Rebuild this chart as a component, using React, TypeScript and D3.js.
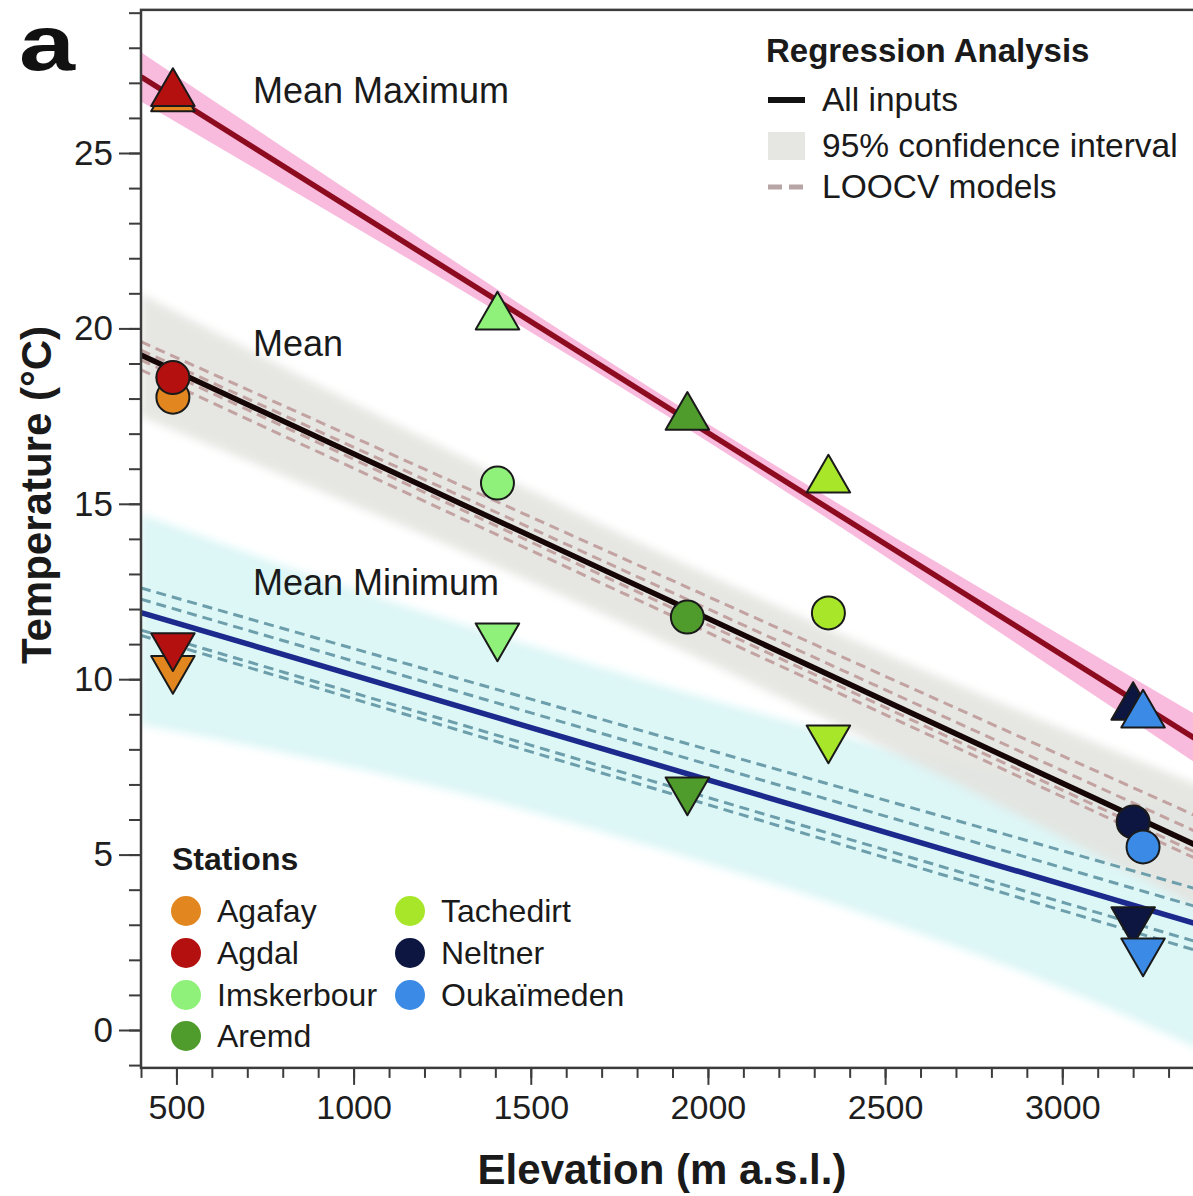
import React, { useEffect, useRef } from 'react';
import * as d3 from 'd3';

// ---- Station data ----
const stations = ['Agafay', 'Agdal', 'Imskerbour', 'Aremd', 'Tachedirt', 'Neltner', 'Oukaïmeden'];
const stationColors = ['#e2861f', '#b3100f', '#8ff07a', '#4f9c2c', '#a8e62a', '#0c1640', '#3b8ae6'];
const elevations = [490, 490, 1406, 1942, 2340, 3200, 3228];
const meanMaxT = [26.55, 26.7, 20.33, 17.47, 15.68, 9.2, 8.98];
const meanT = [18.04, 18.6, 15.59, 11.77, 11.89, 5.93, 5.22];
const meanMinT = [10.3, 10.95, 11.23, 6.84, 8.32, 3.14, 2.25];

// ---- Regression fits (value at each end elevation) ----
const fitElev = [400, 3400];
const fitMax = [27.17, 8.15];
const fitMean = [19.24, 5.16];
const fitMin = [11.9, 2.96];

// ---- LOOCV models (value at each end elevation) ----
const loocvMean = [
  [19.62, 6.0],
  [19.38, 5.55],
  [19.1, 4.95],
  [18.82, 4.78],
];
const loocvMin = [
  [12.6, 3.96],
  [12.28, 3.45],
  [11.4, 2.45],
  [11.25, 2.2],
];

// ---- 95% confidence bands ----
const ciElev = [400, 900, 1400, 1900, 2400, 2900, 3400];
const ciMaxHi = [27.87, 24.5, 21.15, 17.91, 14.81, 11.82, 8.85];
const ciMaxLo = [26.47, 23.5, 20.51, 17.41, 14.17, 10.82, 7.45];
const ciMeanHi = [20.99, 18.39, 15.87, 13.45, 11.17, 9.01, 6.91];
const ciMeanLo = [17.49, 15.39, 13.23, 10.95, 8.53, 6.01, 3.41];
const ciMinHi = [14.7, 12.9, 11.27, 9.73, 8.34, 7.15, 6.26];
const ciMinLo = [8.7, 7.7, 6.5, 5.05, 3.45, 1.6, -0.6];

// ---- Axes ----
const xMajorTicks = [500, 1000, 1500, 2000, 2500, 3000];
const yMajorTicks = [0, 5, 10, 15, 20, 25];
const xDomain = [400, 3400];
const yDomain = [-1.08, 29.08];

const regressionLabels = ['All inputs', '95% confidence interval', 'LOOCV models'];
const curveLabels = ['Mean Maximum', 'Mean', 'Mean Minimum'];
const curveLabelT = [26.42, 19.22, 12.4];

const FONT = "'Liberation Sans', Arial, Helvetica, sans-serif";

export default function App() {
  const ref = useRef<SVGSVGElement>(null);

  useEffect(() => {
    const svg = d3.select(ref.current);
    svg.selectAll('*').remove();

    const x = d3.scaleLinear().domain(xDomain).range([141, 1204]);
    const y = d3.scaleLinear().domain([0, 25]).range([1030, 153]);
    const left = x(xDomain[0]);
    const top = y(yDomain[1]);
    const bottom = y(yDomain[0]);

    const defs = svg.append('defs');
    defs.append('clipPath').attr('id', 'plotclip')
      .append('rect').attr('x', left).attr('y', top).attr('width', 1200).attr('height', bottom - top);
    defs.append('filter').attr('id', 'soft').attr('x', '-10%').attr('y', '-10%').attr('width', '120%').attr('height', '120%')
      .append('feGaussianBlur').attr('stdDeviation', 4);

    const plot = svg.append('g').attr('clip-path', 'url(#plotclip)');

    const band = (lo: number[], hi: number[]) =>
      d3.area<number>()
        .x((_, i) => x(ciElev[i]))
        .y0((_, i) => y(lo[i]))
        .y1((_, i) => y(hi[i]))
        .curve(d3.curveMonotoneX)(ciElev);

    plot.append('path').attr('d', band(ciMinLo, ciMinHi)).attr('fill', '#ddf6f6').attr('filter', 'url(#soft)');
    plot.append('path').attr('d', band(ciMeanLo, ciMeanHi)).attr('fill', '#e4e4e0').attr('opacity', 0.9).attr('filter', 'url(#soft)');
    plot.append('path').attr('d', band(ciMaxLo, ciMaxHi)).attr('fill', '#f6a4d3').attr('opacity', 0.75);

    const line2 = (vals: number[]) =>
      d3.line<number>().x((_, i) => x(fitElev[i])).y((d) => y(d))(vals);

    loocvMean.forEach((v) => {
      plot.append('path').attr('d', line2(v)).attr('fill', 'none')
        .attr('stroke', '#c2a3a1').attr('stroke-width', 3).attr('stroke-dasharray', '10,6');
    });
    loocvMin.forEach((v) => {
      plot.append('path').attr('d', line2(v)).attr('fill', 'none')
        .attr('stroke', '#6c9eab').attr('stroke-width', 3).attr('stroke-dasharray', '10,6');
    });

    plot.append('path').attr('d', line2(fitMax)).attr('fill', 'none').attr('stroke', '#8c0b1e').attr('stroke-width', 5.5);
    plot.append('path').attr('d', line2(fitMean)).attr('fill', 'none').attr('stroke', '#160606').attr('stroke-width', 5.5);
    plot.append('path').attr('d', line2(fitMin)).attr('fill', 'none').attr('stroke', '#1b2a8c').attr('stroke-width', 5.5);

    // curve labels
    curveLabels.forEach((t, i) => {
      svg.append('text').attr('x', 253).attr('y', y(curveLabelT[i])).text(t)
        .attr('font-family', FONT).attr('font-size', 36).attr('fill', '#1a1a1a');
    });

    // markers
    const tri = d3.symbol().type(d3.symbolTriangle).size(820);
    stations.forEach((s, i) => {
      plot.append('path').attr('d', tri()).attr('transform', `translate(${x(elevations[i])},${y(meanMaxT[i])})`)
        .attr('fill', stationColors[i]).attr('stroke', '#1a1a1a').attr('stroke-width', 2).attr('stroke-linejoin', 'round');
    });
    stations.forEach((s, i) => {
      plot.append('circle').attr('cx', x(elevations[i])).attr('cy', y(meanT[i])).attr('r', 16.5)
        .attr('fill', stationColors[i]).attr('stroke', '#1a1a1a').attr('stroke-width', 2);
    });
    stations.forEach((s, i) => {
      plot.append('path').attr('d', tri()).attr('transform', `translate(${x(elevations[i])},${y(meanMinT[i])}) rotate(180)`)
        .attr('fill', stationColors[i]).attr('stroke', '#1a1a1a').attr('stroke-width', 2).attr('stroke-linejoin', 'round');
    });

    // frame
    svg.append('rect').attr('x', left).attr('y', top).attr('width', 1200).attr('height', bottom - top)
      .attr('fill', 'none').attr('stroke', '#3c3c3c').attr('stroke-width', 2.5);

    // y axis
    const yMinor = d3.range(Math.ceil(yDomain[0]), Math.floor(yDomain[1]) + 1);
    const yAxisMinor = d3.axisLeft(y).tickValues(yMinor).tickSize(12).tickFormat(() => '');
    const yAxisMajor = d3.axisLeft(y).tickValues(yMajorTicks).tickSize(22).tickPadding(6);
    const ya1 = svg.append('g').attr('transform', `translate(${left},0)`).call(yAxisMinor);
    const ya2 = svg.append('g').attr('transform', `translate(${left},0)`).call(yAxisMajor);
    [ya1, ya2].forEach((g) => {
      g.select('.domain').remove();
      g.selectAll('line').attr('stroke', '#3c3c3c').attr('stroke-width', 2);
    });
    ya2.selectAll('text').attr('font-family', FONT).attr('font-size', 35).attr('fill', '#1e1e1e');

    // x axis
    const xMinor = d3.range(xDomain[0], xDomain[1] + 1, 100);
    const xAxisMinor = d3.axisBottom(x).tickValues(xMinor).tickSize(10).tickFormat(() => '');
    const xAxisMajor = d3.axisBottom(x).tickValues(xMajorTicks).tickSize(17).tickPadding(10).tickFormat(d3.format('d'));
    const xa1 = svg.append('g').attr('transform', `translate(0,${bottom})`).call(xAxisMinor);
    const xa2 = svg.append('g').attr('transform', `translate(0,${bottom})`).call(xAxisMajor);
    [xa1, xa2].forEach((g) => {
      g.select('.domain').remove();
      g.selectAll('line').attr('stroke', '#3c3c3c').attr('stroke-width', 2);
    });
    xa2.selectAll('text').attr('font-family', FONT).attr('font-size', 34).attr('fill', '#1e1e1e');

    // axis titles
    svg.append('text').attr('transform', `translate(51,${495}) rotate(-90)`).attr('text-anchor', 'middle')
      .attr('font-family', FONT).attr('font-weight', 'bold').attr('font-size', 42).attr('fill', '#1a1a1a')
      .text('Temperature (°C)');
    svg.append('text').attr('x', 662).attr('y', 1184).attr('text-anchor', 'middle')
      .attr('font-family', FONT).attr('font-weight', 'bold').attr('font-size', 42).attr('fill', '#1a1a1a')
      .text('Elevation (m a.s.l.)');

    // panel letter
    svg.append('text').attr('x', 19).attr('y', 70).attr('font-family', FONT).attr('font-weight', 'bold')
      .attr('font-size', 77).attr('textLength', 56).attr('lengthAdjust', 'spacingAndGlyphs')
      .attr('fill', '#111').text('a');

    // regression legend
    const lg = svg.append('g').attr('font-family', FONT).attr('fill', '#1a1a1a');
    lg.append('text').attr('x', 766).attr('y', 62).attr('font-weight', 'bold').attr('font-size', 33).text('Regression Analysis');
    const legY = [100, 146, 187];
    lg.append('line').attr('x1', 768).attr('x2', 805).attr('y1', legY[0]).attr('y2', legY[0]).attr('stroke', '#111').attr('stroke-width', 6);
    lg.append('rect').attr('x', 768).attr('y', legY[1] - 14).attr('width', 37).attr('height', 28).attr('fill', '#e6e6e2');
    lg.append('line').attr('x1', 768).attr('x2', 805).attr('y1', legY[2]).attr('y2', legY[2]).attr('stroke', '#b8a6a6')
      .attr('stroke-width', 5).attr('stroke-dasharray', '14,7');
    regressionLabels.forEach((t, i) => {
      lg.append('text').attr('x', 822).attr('y', legY[i] + 11).attr('font-size', 33.5).text(t);
    });

    // stations legend
    const sg = svg.append('g').attr('font-family', FONT).attr('fill', '#1a1a1a');
    sg.append('text').attr('x', 172).attr('y', 870).attr('font-weight', 'bold').attr('font-size', 32).text('Stations');
    const rows = [911, 953, 995, 1036];
    stations.forEach((s, i) => {
      const col = i < 4 ? 0 : 1;
      const row = i < 4 ? i : i - 4;
      const cx = col === 0 ? 186 : 410;
      sg.append('circle').attr('cx', cx).attr('cy', rows[row]).attr('r', 15).attr('fill', stationColors[i]);
      sg.append('text').attr('x', cx + 31).attr('y', rows[row] + 11).attr('font-size', 32).text(s);
    });
  }, []);

  return (
    <svg
      ref={ref}
      width={1193}
      height={1196}
      style={{ position: 'absolute', left: 0, top: 0, background: '#fff' }}
    />
  );
}
